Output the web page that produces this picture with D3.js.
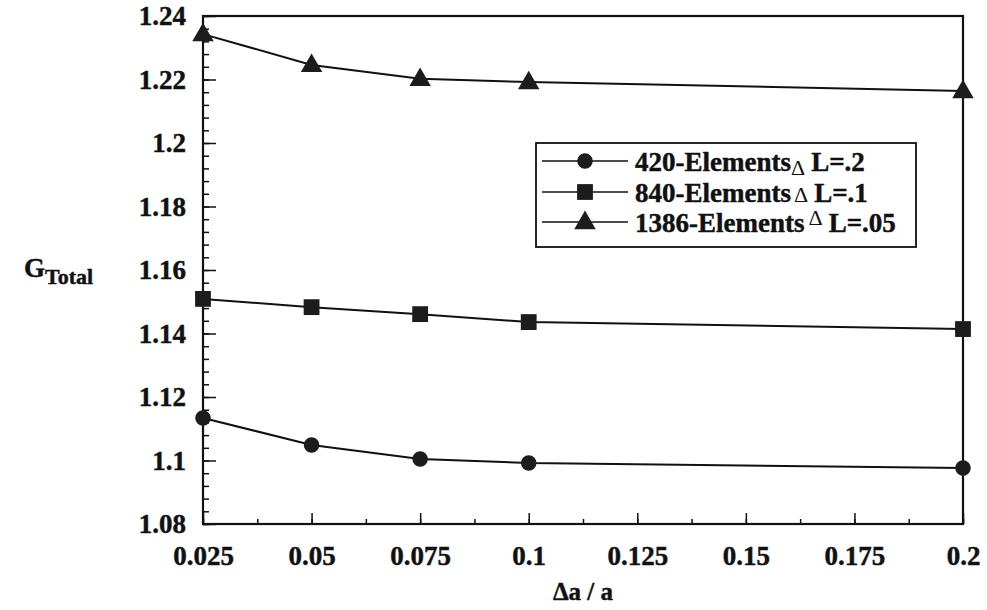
<!DOCTYPE html>
<html>
<head>
<meta charset="utf-8">
<script src="https://cdn.jsdelivr.net/npm/d3@7"></script>
<style>
  html, body { margin: 0; padding: 0; background: #fff; }
  svg { display: block; }
  text { font-family: "Liberation Serif", "Times New Roman", Times, "DejaVu Serif", serif; font-weight: bold; fill: #111; stroke: #111; stroke-width: 0.45px; }
  text .thin { stroke-width: 0; }
</style>
</head>
<body>
<svg id="chart" width="987" height="610"></svg>
<script>
// Crack length ratio Δa/a
const crackRatio = [0.025, 0.05, 0.075, 0.1, 0.2];

// G_Total for each mesh refinement
const mesh420 = [1.1134, 1.1049, 1.1005, 1.0992, 1.0976];
const mesh840 = [1.1509, 1.1483, 1.1461, 1.1436, 1.1414];
const mesh1386 = [1.2343, 1.2246, 1.2202, 1.2192, 1.2164];

const xTicks = [0.025, 0.05, 0.075, 0.1, 0.125, 0.15, 0.175, 0.2];
const yTicks = [1.08, 1.1, 1.12, 1.14, 1.16, 1.18, 1.2, 1.22, 1.24];

const seriesNames = ["420-Elements", "840-Elements", "1386-Elements"];
const seriesDeltaL = ["L=.2", "L=.1", "L=.05"];
const seriesMarkers = ["circle", "square", "triangle"];

const svg = d3.select("#chart");
const plotL = 203, plotR = 963, plotT = 16, plotB = 524;

const x = d3.scaleLinear().domain([0.025, 0.2]).range([plotL, plotR]);
const y = d3.scaleLinear().domain([1.08, 1.24]).range([plotB, plotT]);

const fmt = d => String(+d.toFixed(3));

// minor ticks (inward)
const xMinor = d3.range(0, 15).map(i => 0.025 + i * 0.0125).filter(v => v <= 0.2 + 1e-9);
const yMinor = d3.range(0, 41).map(i => 1.08 + i * 0.004);

svg.append("g")
  .attr("transform", `translate(0,${plotB})`)
  .call(d3.axisBottom(x).tickValues(xMinor).tickSize(-5).tickFormat(""))
  .call(g => g.select(".domain").remove())
  .call(g => g.selectAll("line").attr("stroke", "#111").attr("stroke-width", 1.5));

svg.append("g")
  .attr("transform", `translate(${plotL},0)`)
  .call(d3.axisLeft(y).tickValues(yMinor).tickSize(-6).tickFormat(""))
  .call(g => g.select(".domain").remove())
  .call(g => g.selectAll("line").attr("stroke", "#111").attr("stroke-width", 1.5));

// major ticks with labels
svg.append("g")
  .attr("transform", `translate(0,${plotB})`)
  .call(d3.axisBottom(x).tickValues(xTicks).tickSize(-11).tickPadding(22).tickFormat(fmt))
  .call(g => g.select(".domain").remove())
  .call(g => g.selectAll("line").attr("stroke", "#111").attr("stroke-width", 1.5))
  .call(g => g.selectAll("text").attr("font-size", 27));

svg.append("g")
  .attr("transform", `translate(${plotL},0)`)
  .call(d3.axisLeft(y).tickValues(yTicks).tickSize(-13).tickPadding(17).tickFormat(fmt))
  .call(g => g.select(".domain").remove())
  .call(g => g.selectAll("line").attr("stroke", "#111").attr("stroke-width", 1.5))
  .call(g => g.selectAll("text").attr("font-size", 27));

// plot frame
svg.append("rect")
  .attr("x", plotL).attr("y", plotT)
  .attr("width", plotR - plotL).attr("height", plotB - plotT)
  .attr("fill", "none").attr("stroke", "#111").attr("stroke-width", 2.2);

// axis titles
svg.append("text")
  .attr("x", 583).attr("y", 600)
  .attr("text-anchor", "middle")
  .attr("font-size", 25)
  .text("Δa / a");

const gT = svg.append("text").attr("x", 24).attr("y", 277).attr("font-size", 27);
gT.append("tspan").text("G");
gT.append("tspan").attr("dy", 7).attr("font-size", 22).text("Total");

// markers
const symbolFor = {
  circle: d3.symbol().type(d3.symbolCircle).size(190),
  square: d3.symbol().type(d3.symbolSquare).size(250),
  triangle: d3.symbol().type(d3.symbolTriangle).size(200)
};

const line = d3.line().x(d => x(d[0])).y(d => y(d[1]));
const allSeries = [mesh420, mesh840, mesh1386];

allSeries.forEach((vals, i) => {
  const pts = crackRatio.map((c, j) => [c, vals[j]]);
  svg.append("path")
    .datum(pts)
    .attr("d", line)
    .attr("fill", "none")
    .attr("stroke", "#111")
    .attr("stroke-width", 2);
  svg.append("g").selectAll("path")
    .data(pts)
    .join("path")
    .attr("transform", d => `translate(${x(d[0])},${y(d[1]) + (seriesMarkers[i] === "triangle" ? 1 : 0)})`)
    .attr("d", symbolFor[seriesMarkers[i]])
    .attr("fill", "#1c1c1c");
});

// legend
const lg = svg.append("g");
lg.append("rect")
  .attr("x", 536).attr("y", 143).attr("width", 380).attr("height", 104)
  .attr("fill", "#fff").attr("stroke", "#111").attr("stroke-width", 1.8);

const rowY = [161, 192, 222];
const deltaShift = [4, 0, -7];
const deltaGap = [0, 3, 4];
seriesNames.forEach((name, i) => {
  const yy = rowY[i];
  lg.append("line")
    .attr("x1", 542).attr("x2", 628).attr("y1", yy).attr("y2", yy)
    .attr("stroke", "#111").attr("stroke-width", 1.6);
  lg.append("path")
    .attr("transform", `translate(585,${yy + (seriesMarkers[i] === "triangle" ? 1 : 0)})`)
    .attr("d", symbolFor[seriesMarkers[i]])
    .attr("fill", "#1c1c1c");
  const t = lg.append("text")
    .attr("x", 635).attr("y", yy + 10)
    .attr("font-size", 27);
  t.append("tspan").text(name);
  t.append("tspan")
    .attr("class", "thin")
    .attr("dx", deltaGap[i]).attr("dy", deltaShift[i])
    .attr("font-weight", "normal").attr("font-size", 22)
    .text("Δ");
  t.append("tspan")
    .attr("dx", 6).attr("dy", -deltaShift[i])
    .text(seriesDeltaL[i]);
});
</script>
</body>
</html>
